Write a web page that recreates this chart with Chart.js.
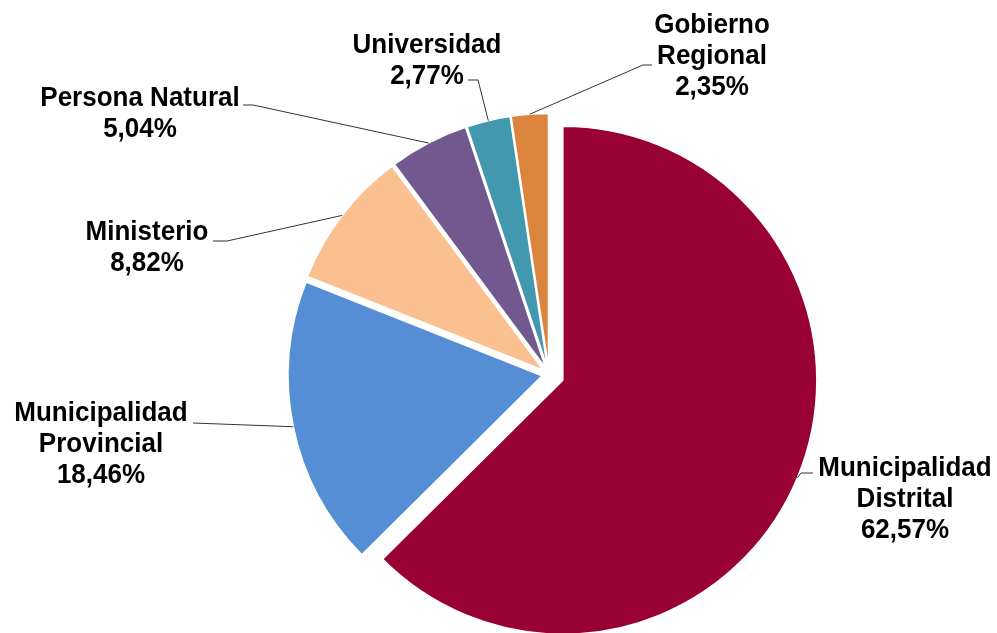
<!DOCTYPE html>
<html>
<head>
<meta charset="utf-8">
<script src="https://cdn.jsdelivr.net/npm/chart.js@4/dist/chart.umd.min.js"></script>
<style>
    html, body { margin: 0; padding: 0; background: #fff; }
    #wrap { width: 997px; height: 633px; }
</style>
</head>
<body>
<div id="wrap"><canvas id="pieChart"></canvas></div>
<script>
// data
const categories = ['Municipalidad\nDistrital', 'Municipalidad\nProvincial', 'Ministerio', 'Persona Natural', 'Universidad', 'Gobierno\nRegional'];
const shares = [62.57, 18.46, 8.82, 5.04, 2.77, 2.35];

// looks
const colors = ['#990033', '#558ED5', '#FAC090', '#71588F', '#4198AF', '#DB843D'];
const explode = [15, 7, 7, 7, 7, 7];
// text centre (first line) and where the leader meets the label
const labelLayout = [
    { tx: 905, ty: 468, elbow: [801, 473], end: [813, 473] },
    { tx: 101, ty: 413, elbow: [193, 423], end: [193, 423] },
    { tx: 147, ty: 232, elbow: [227, 241], end: [213, 241] },
    { tx: 140, ty: 98, elbow: [253, 105], end: [243, 105] },
    { tx: 427, ty: 45, elbow: [478, 80], end: [468, 80] },
    { tx: 712, ty: 25, elbow: [643, 65], end: [652, 65] }
];

function midAngle(arc) {
    return (arc.startAngle + arc.endAngle) / 2;
}

const explodePlugin = {
    id: 'explode',
    beforeDatasetDraw(chart, args) {
        const ctx = chart.ctx;
        args.meta.data.forEach(function(arc, i) {
            const a = midAngle(arc);
            ctx.save();
            ctx.translate(Math.cos(a) * explode[i], Math.sin(a) * explode[i]);
            arc.draw(ctx);
            ctx.restore();
        });
        return false;
    },
    afterDraw(chart) {
        const ctx = chart.ctx;
        const arcs = chart.getDatasetMeta(0).data;
        arcs.forEach(function(arc, i) {
            const a = midAngle(arc);
            const r = arc.outerRadius + explode[i];
            const sx = arc.x + Math.cos(a) * r;
            const sy = arc.y + Math.sin(a) * r;
            const lay = labelLayout[i];
            ctx.save();
            ctx.strokeStyle = '#333';
            ctx.lineWidth = 1;
            ctx.beginPath();
            ctx.moveTo(sx, sy);
            ctx.lineTo(lay.elbow[0], lay.elbow[1]);
            ctx.lineTo(lay.end[0], lay.end[1]);
            ctx.stroke();

            const lines = categories[i].split('\n');
            lines.push(shares[i].toFixed(2).replace('.', ',') + '%');
            ctx.fillStyle = '#000';
            ctx.font = 'bold 26px "Liberation Sans", Arial, sans-serif';
            ctx.textAlign = 'center';
            ctx.textBaseline = 'middle';
            // text in the original is a little taller than wide
            lines.forEach(function(t, k) {
                ctx.save();
                ctx.translate(lay.tx, lay.ty + k * 31);
                ctx.scale(1, 1.08);
                ctx.fillText(t, 0, 0);
                ctx.restore();
            });
            ctx.restore();
        });
    }
};

const ctx = document.getElementById('pieChart').getContext('2d');
const pieChart = new Chart(ctx, {
    type: 'pie',
    data: {
        labels: categories,
        datasets: [{
            data: shares,
            backgroundColor: colors,
            borderColor: '#ffffff',
            borderWidth: 1.5
        }]
    },
    options: {
        responsive: true,
        maintainAspectRatio: false,
        animation: false,
        radius: 254,
        layout: {
            padding: { left: 249, right: 148, top: 116, bottom: -1 }
        },
        plugins: {
            legend: { display: false },
            tooltip: { enabled: false }
        }
    },
    plugins: [explodePlugin]
});
</script>
</body>
</html>
